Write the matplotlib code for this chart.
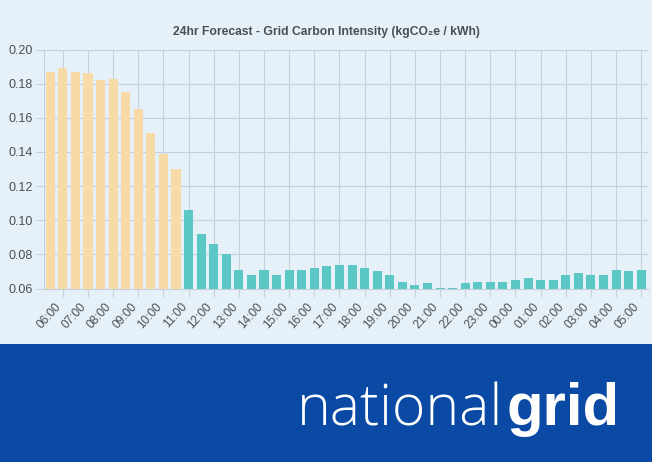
import matplotlib.pyplot as plt
from matplotlib.transforms import ScaledTranslation
import numpy as np

# Valores de intensidad de carbono (cada media hora)
valores = [0.187, 0.189, 0.187, 0.186, 0.182, 0.183, 0.175, 0.165, 0.151, 0.139, 0.130, 0.106,
           0.092, 0.086, 0.080, 0.071, 0.068, 0.071, 0.068, 0.071, 0.071, 0.072, 0.073, 0.074,
           0.074, 0.072, 0.070, 0.068, 0.064, 0.062, 0.063, 0.0605, 0.0605, 0.063, 0.064, 0.064,
           0.064, 0.065, 0.066, 0.065, 0.065, 0.068, 0.069, 0.068, 0.068, 0.071, 0.070, 0.071]
horas = ['06:00', '07:00', '08:00', '09:00', '10:00', '11:00', '12:00', '13:00',
         '14:00', '15:00', '16:00', '17:00', '18:00', '19:00', '20:00', '21:00',
         '22:00', '23:00', '00:00', '01:00', '02:00', '03:00', '04:00', '05:00']
ticksY = [0.06, 0.08, 0.10, 0.12, 0.14, 0.16, 0.18, 0.20]
noNaranjas = 11

fondo = '#E6F0F8'
gris = '#4a4f55'
rejilla = '#c6d0da'

plt.rcParams['font.family'] = ['Liberation Sans', 'DejaVu Sans']

fig = plt.figure(figsize=(6.52, 4.62), dpi=100, facecolor=fondo)
ax = fig.add_axes([44 / 652, 173.5 / 462, 603.5 / 652, 239 / 462], facecolor=fondo)

# Barras: naranjas las primeras, luego turquesa
colores = ['#F8D9A8'] * noNaranjas + ['#5CC8C5'] * (len(valores) - noNaranjas)
ax.bar(np.arange(len(valores)), valores, width=0.72, color=colores, zorder=3)

ax.set_xlim(-0.5, len(valores) - 0.5)
ax.set_ylim(0.06, 0.20)
ax.set_yticks(ticksY)
ax.set_yticklabels(['%.2f' % t for t in ticksY])
ax.set_xticks(np.arange(1, len(valores), 2))
ax.set_xticklabels(horas, rotation=48, ha='right', va='top', rotation_mode='anchor')

ax.grid(True, color=rejilla, linewidth=0.8, zorder=0)
ax.tick_params(axis='both', color=rejilla, width=0.8, length=6, labelcolor=gris, labelsize=9)
ax.tick_params(axis='x', pad=3, labelsize=8.6)
ax.tick_params(axis='y', pad=2)
for lado in ['top', 'right']:
    ax.spines[lado].set_visible(False)
for lado in ['left', 'bottom']:
    ax.spines[lado].set_color(rejilla)
    ax.spines[lado].set_linewidth(0.8)

# Las etiquetas van un poco a la izquierda de su marca
desplazamiento = ScaledTranslation(-8 / 100, 0, fig.dpi_scale_trans)
for etiqueta in ax.get_xticklabels():
    etiqueta.set_transform(etiqueta.get_transform() + desplazamiento)

fig.text(326 / 652, 1 - 32 / 462, '24hr Forecast - Grid Carbon Intensity (kgCO₂e / kWh)',
         ha='center', va='center', fontsize=8.7, fontweight='bold', color=gris)

# Banda azul con el logotipo
banda = fig.add_axes([0, 0, 1, 118 / 462], facecolor='#0A4AA5')
banda.set_xticks([])
banda.set_yticks([])
for lado in banda.spines.values():
    lado.set_visible(False)

fig.text(503 / 652, 1 - 425 / 462, 'national', ha='right', va='baseline', fontsize=41,
         color='white', family='Open Sans', fontweight='light')
fig.text(507 / 652, 1 - 425 / 462, 'grid', ha='left', va='baseline', fontsize=43,
         color='white', family='Liberation Sans', fontweight='bold')

plt.savefig('out.png', dpi=100, facecolor=fondo)
